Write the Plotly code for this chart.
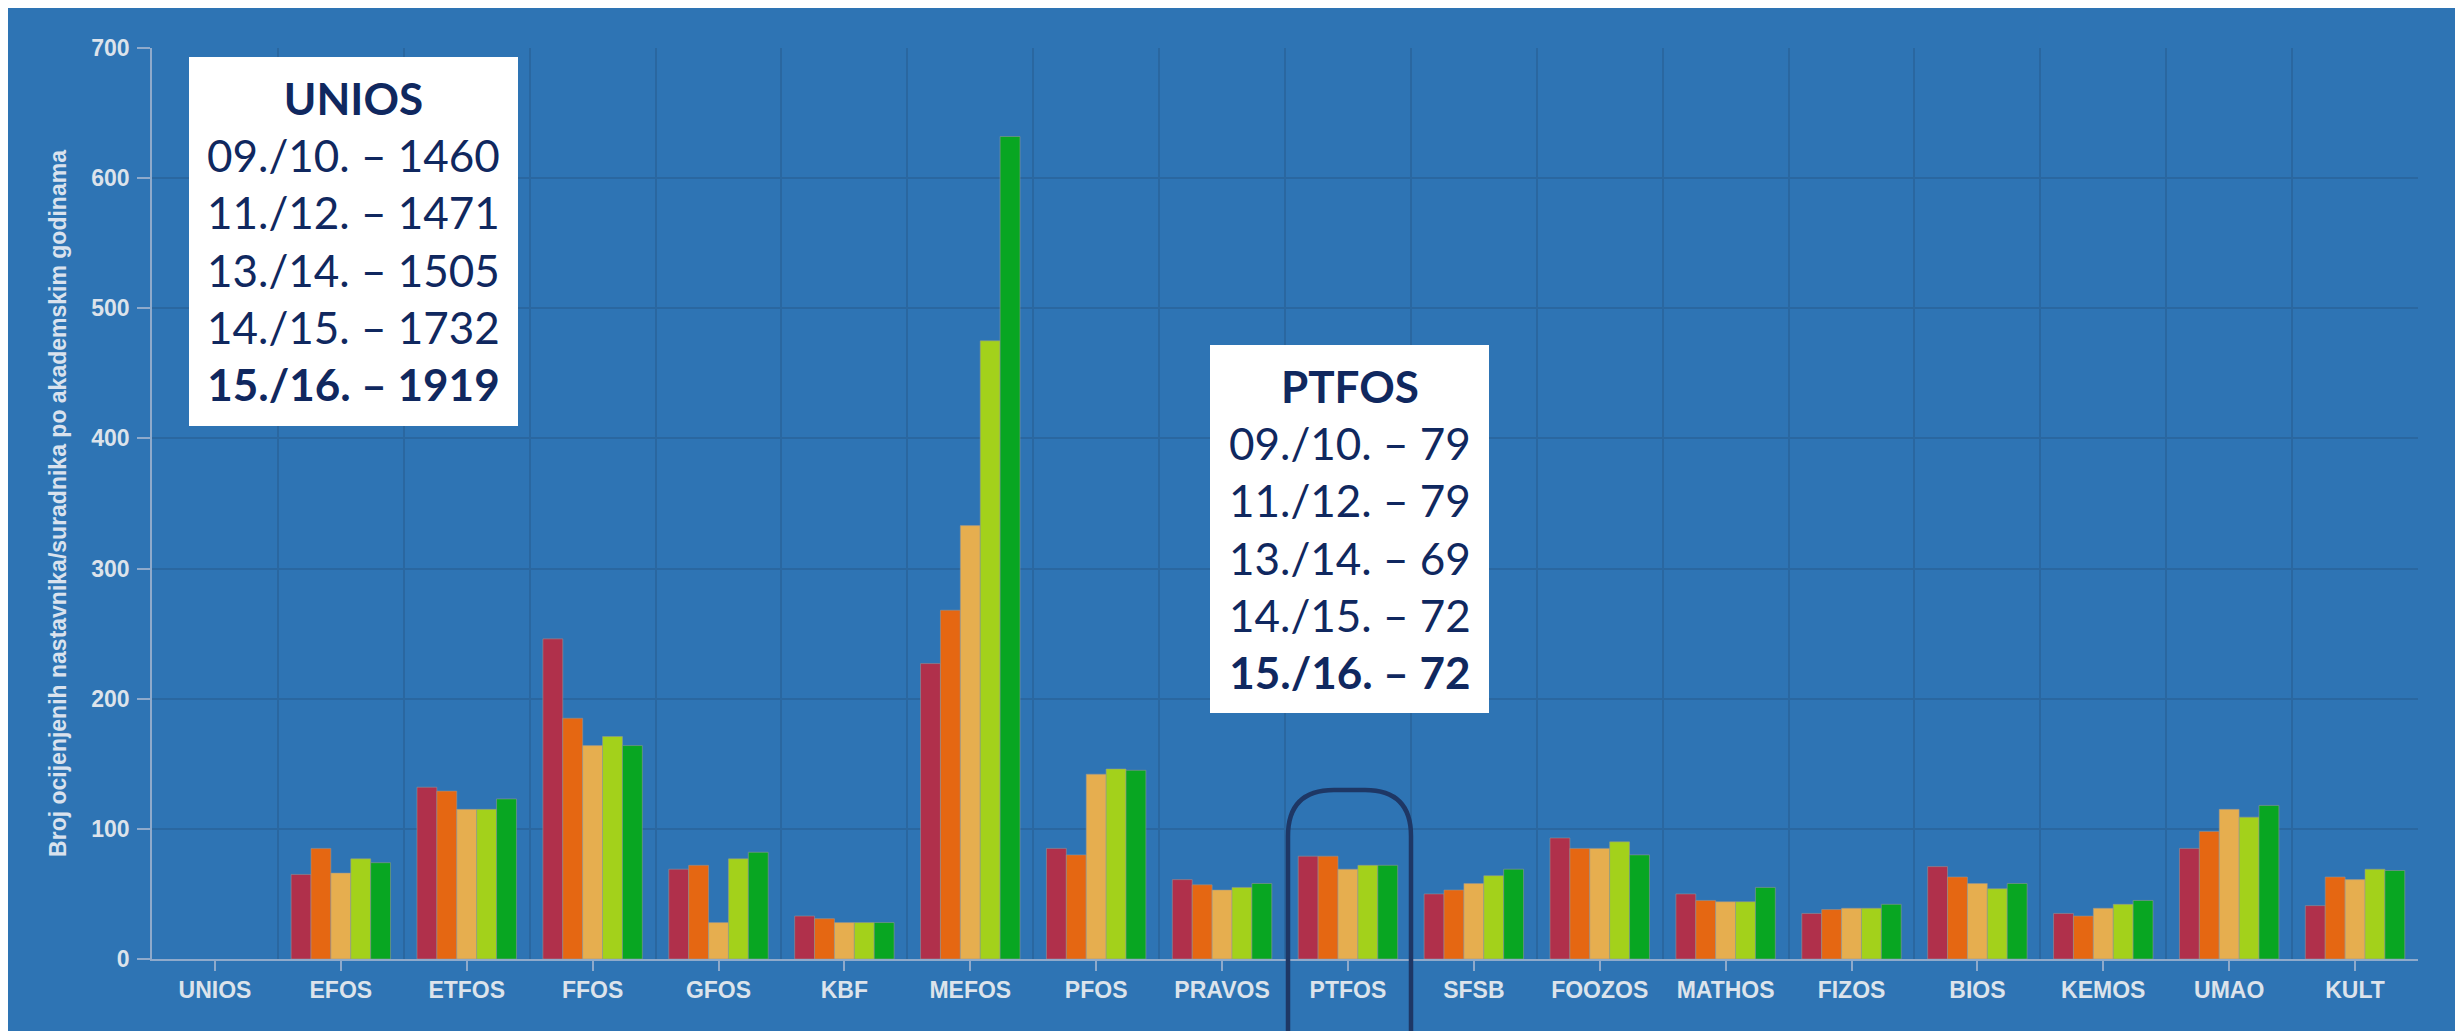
import plotly.graph_objects as go

categories = ["UNIOS", "EFOS", "ETFOS", "FFOS", "GFOS", "KBF", "MEFOS", "PFOS", "PRAVOS",
              "PTFOS", "SFSB", "FOOZOS", "MATHOS", "FIZOS", "BIOS", "KEMOS", "UMAO", "KULT"]
years = ["09./10.", "11./12.", "13./14.", "14./15.", "15./16."]

y_0910 = [None, 65, 132, 246, 69, 33, 227, 85, 61, 79, 50, 93, 50, 35, 71, 35, 85, 41]
y_1112 = [None, 85, 129, 185, 72, 31, 268, 80, 57, 79, 53, 85, 45, 38, 63, 33, 98, 63]
y_1314 = [None, 66, 115, 164, 28, 28, 333, 142, 53, 69, 58, 85, 44, 39, 58, 39, 115, 61]
y_1415 = [None, 77, 115, 171, 77, 28, 475, 146, 55, 72, 64, 90, 44, 39, 54, 42, 109, 69]
y_1516 = [None, 74, 123, 164, 82, 28, 632, 145, 58, 72, 69, 80, 55, 42, 58, 45, 118, 68]

unios_totals = [1460, 1471, 1505, 1732, 1919]
ptfos_totals = [79, 79, 69, 72, 72]

y_ticks = [0, 100, 200, 300, 400, 500, 600, 700]

series = [y_0910, y_1112, y_1314, y_1415, y_1516]
colors = ["#B0304B", "#E56712", "#E6AE4F", "#A3D11B", "#08A622"]

# page offset of the figure inside the html body (default body margin)
OFF = 8
W, H = 2463, 1031
# plot-area edges in page pixels
L, R, T, B = 152, 2418, 48, 959
BG = "#2E74B4"
NAVY = "#10285F"

def px(x):
    return (x - L) / (R - L)

def py(y):
    return (B - y) / (B - T)

xs = list(range(len(categories)))

fig = go.Figure()
for name, vals, col in zip(years, series, colors):
    fig.add_trace(go.Bar(
        x=xs, y=vals, name=name,
        marker=dict(color=col, line=dict(color="rgba(150,150,150,0.55)", width=1)),
        showlegend=False,
    ))

def box_text(title, totals):
    lines = [f"<b>{title}</b>"]
    for i, (yr, v) in enumerate(zip(years, totals)):
        s = f"{yr} – {v}"
        if i == len(years) - 1:
            s = f"<b>{s}</b>"
        lines.append(s)
    return "<br>".join(lines)

shapes = [
    dict(type="rect", xref="paper", yref="paper", layer="above",
         x0=px(189), x1=px(518), y0=py(57), y1=py(426),
         fillcolor="white", line=dict(width=0)),
    dict(type="rect", xref="paper", yref="paper", layer="above",
         x0=px(1210), x1=px(1489), y0=py(345), y1=py(713),
         fillcolor="white", line=dict(width=0)),
]

# rounded outline around PTFOS
lx, rx, ty, by, r = 1288, 1411, 790, 1070, 46
path = (f"M {px(lx)},{py(by)} L {px(lx)},{py(ty + r)} "
        f"Q {px(lx)},{py(ty)} {px(lx + r)},{py(ty)} "
        f"L {px(rx - r)},{py(ty)} "
        f"Q {px(rx)},{py(ty)} {px(rx)},{py(ty + r)} "
        f"L {px(rx)},{py(by)}")
shapes.append(dict(type="path", xref="paper", yref="paper", layer="above", path=path,
                   line=dict(color="#1E3765", width=4.5)))

annotations = [
    dict(xref="paper", yref="paper", x=px(353.5), y=py(241), xanchor="center", yanchor="middle",
         text=box_text("UNIOS", unios_totals), showarrow=False, align="center",
         font=dict(family="Lato, Open Sans, sans-serif", size=44, color=NAVY)),
    dict(xref="paper", yref="paper", x=px(1349.5), y=py(529), xanchor="center", yanchor="middle",
         text=box_text("PTFOS", ptfos_totals), showarrow=False, align="center",
         font=dict(family="Lato, Open Sans, sans-serif", size=44, color=NAVY)),
]

GRID = "#2A67A0"
AXIS = "#8FAACB"
TICKFONT = "#DCE3EB"

fig.update_layout(
    width=W, height=H,
    margin=dict(l=L - OFF, r=W - (R - OFF), t=T - OFF, b=H - (B - OFF), pad=0),
    paper_bgcolor=BG,
    plot_bgcolor=BG,
    barmode="group",
    bargap=0.21,
    bargroupgap=0,
    shapes=shapes,
    annotations=annotations,
    xaxis=dict(
        range=[-0.5, len(categories) - 0.5],
        tickmode="array", tickvals=xs, ticktext=categories,
        showgrid=False, zeroline=False,
        showline=True, linecolor=AXIS, linewidth=1.5,
        ticks="outside", ticklen=10, tickwidth=1.5, tickcolor=AXIS,
        tickfont=dict(family="Liberation Sans, Arial, sans-serif", size=23, color=TICKFONT,
                      weight="bold"),
        minor=dict(tickmode="array", tickvals=[i + 0.5 for i in xs],
                   showgrid=True, gridcolor=GRID, gridwidth=1.5, ticks=""),
        fixedrange=True,
    ),
    yaxis=dict(
        range=[0, 700],
        tickmode="array", tickvals=y_ticks,
        showgrid=True, gridcolor=GRID, gridwidth=1.5, zeroline=False,
        showline=True, linecolor=AXIS, linewidth=1.5,
        ticks="outside", ticklen=13, tickwidth=1.5, tickcolor=AXIS,
        ticklabelstandoff=3,
        tickfont=dict(family="Liberation Sans, Arial, sans-serif", size=23, color=TICKFONT,
                      weight="bold"),
        title=dict(text="Broj ocijenjenih nastavnika/suradnika po akademskim godinama",
                   font=dict(family="Liberation Sans, Arial, sans-serif", size=23, color="#D9E2EE",
                             weight="bold"),
                   standoff=18),
        fixedrange=True,
    ),
)

fig.write_html("out.html")
